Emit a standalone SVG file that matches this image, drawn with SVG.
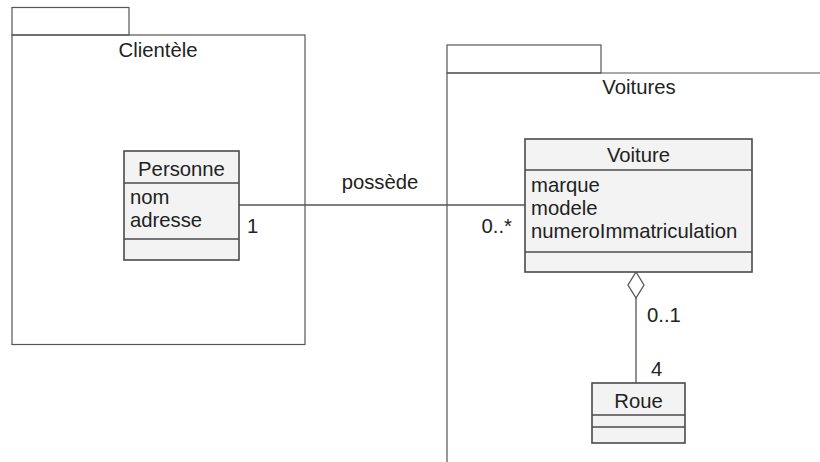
<svg xmlns="http://www.w3.org/2000/svg" width="820" height="462" viewBox="0 0 820 462">
<style>
.pkg{fill:none;stroke:#555;stroke-width:1.2}
.cls{fill:#f3f3f3;stroke:#4a4a4a;stroke-width:1.6}
.div{stroke:#4a4a4a;stroke-width:1.4}
.t{font-family:"Liberation Sans",Arial,sans-serif;font-size:20.3px;fill:#222}
.c{text-anchor:middle}
.e{text-anchor:end}
.ln{fill:none;stroke:#555;stroke-width:1.3}
</style>
<rect width="820" height="462" fill="#fff"/>
<g id="pkg-clientele">
<rect class="pkg" x="12" y="7.5" width="117" height="27.5"/>
<rect class="pkg" x="12" y="35" width="293" height="309.5"/>
<text class="t c" x="158" y="57">Clientèle</text>
</g>
<g id="pkg-voitures">
<rect class="pkg" x="447" y="45" width="154" height="28"/>
<path class="pkg" d="M447 462V73H821"/>
<text class="t c" x="639" y="94">Voitures</text>
</g>
<g id="connectors">
<line class="ln" x1="239" y1="205" x2="525" y2="205"/>
<text class="t c" x="380" y="189">possède</text>
<text class="t" x="247" y="233">1</text>
<text class="t e" x="512" y="233">0..*</text>
<path class="ln" d="M636 298V383"/>
<path d="M636 272L644 285L636 298L628 285Z" fill="#fff" stroke="#555" stroke-width="1.3"/>
<text class="t" x="647" y="322">0..1</text>
<text class="t" x="651" y="376">4</text>
</g>
<g id="personne">
<rect class="cls" x="124" y="151" width="115" height="109"/>
<line class="div" x1="124" y1="183" x2="239" y2="183"/>
<line class="div" x1="124" y1="239" x2="239" y2="239"/>
<text class="t c" x="181.5" y="176">Personne</text>
<text class="t" x="130" y="204">nom</text>
<text class="t" x="130" y="227">adresse</text>
</g>
<g id="voiture">
<rect class="cls" x="525" y="139" width="227" height="133"/>
<line class="div" x1="525" y1="170" x2="752" y2="170"/>
<line class="div" x1="525" y1="252" x2="752" y2="252"/>
<text class="t c" x="638.5" y="162">Voiture</text>
<text class="t" x="531" y="192">marque</text>
<text class="t" x="531" y="215">modele</text>
<text class="t" x="531" y="238">numeroImmatriculation</text>
</g>
<g id="roue">
<rect class="cls" x="592" y="383" width="93" height="60"/>
<line class="div" x1="592" y1="415" x2="685" y2="415"/>
<line class="div" x1="592" y1="427" x2="685" y2="427"/>
<text class="t c" x="638.5" y="408">Roue</text>
</g>
</svg>
